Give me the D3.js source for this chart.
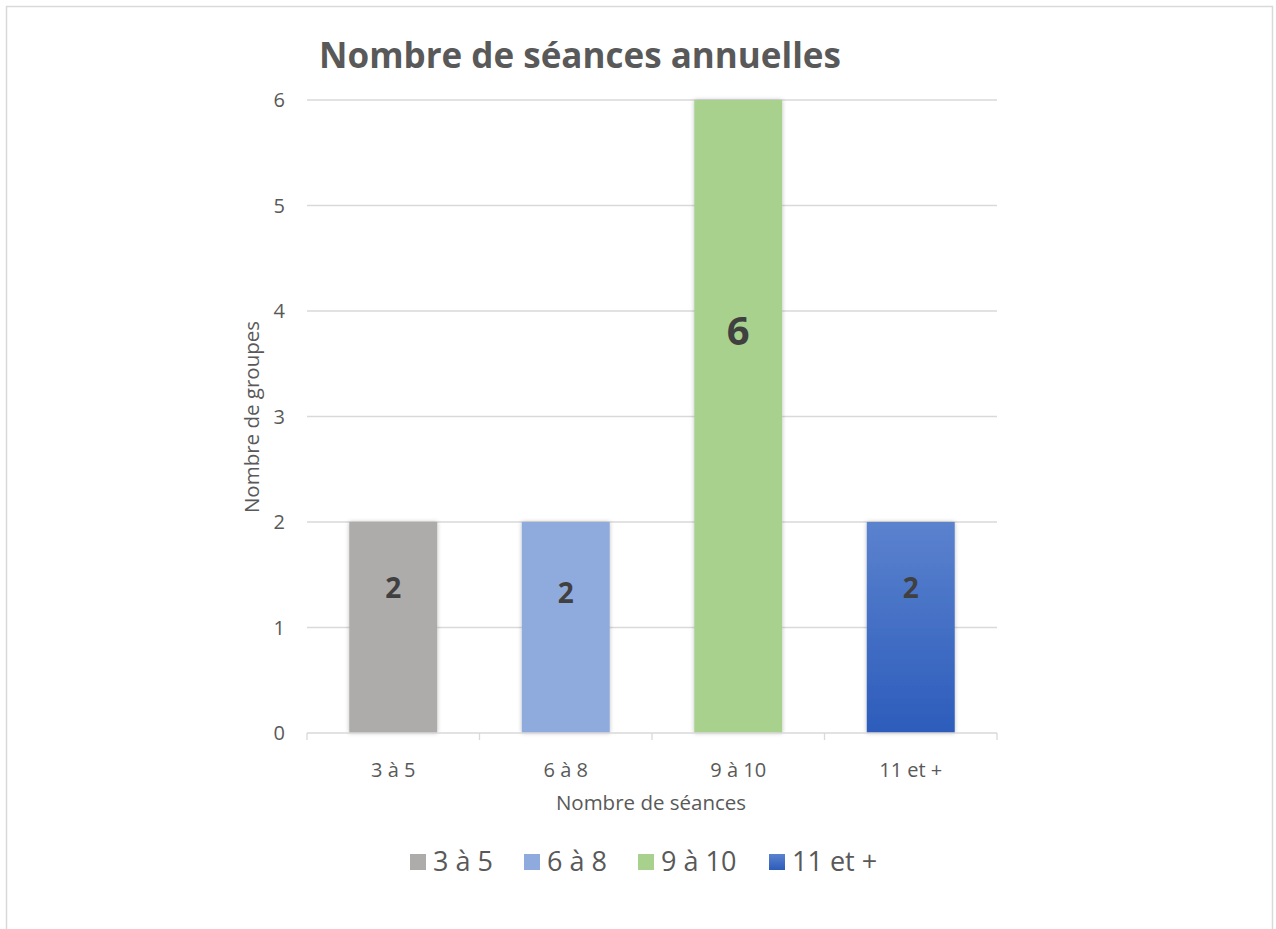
<!DOCTYPE html>
<html><head><meta charset="utf-8">
<script src="https://cdn.jsdelivr.net/npm/d3@7"></script>
<style>
html,body{margin:0;padding:0;background:#fff;}
svg{display:block;font-family:"Open Sans","Noto Sans",sans-serif;}
</style></head>
<body>
<script>
const categories = ["3 à 5", "6 à 8", "9 à 10", "11 et +"];
const values = [2, 2, 6, 2];
const labelPos = [1.38, 1.34, 3.82, 1.38];
const yTicks = [0, 1, 2, 3, 4, 5, 6];
const title = "Nombre de séances annuelles";
const xTitle = "Nombre de séances";
const yTitle = "Nombre de groupes";
const colors = ["#AEABAB", "#8FAADC", "#A9D18E", "url(#blueGrad)"];

const W = 1276, H = 929;
const svg = d3.select("body").append("svg").attr("width", W).attr("height", H);
const defs = svg.append("defs");
const g1 = defs.append("linearGradient").attr("id","blueGrad").attr("x1",0).attr("y1",0).attr("x2",0).attr("y2",1);
g1.append("stop").attr("offset","0%").attr("stop-color","#5B82CE");
g1.append("stop").attr("offset","100%").attr("stop-color","#2C5CBB");
const f = defs.append("filter").attr("id","shadow").attr("x","-20%").attr("y","-5%").attr("width","140%").attr("height","110%");
f.append("feDropShadow").attr("dx",0).attr("dy",0).attr("stdDeviation",2).attr("flood-color","#000").attr("flood-opacity",0.25);

// border
svg.append("rect").attr("x",6.5).attr("y",6.5).attr("width",1266).attr("height",940)
  .attr("fill","#fff").attr("stroke","#D9D9D9").attr("stroke-width",1.5);

const x = d3.scaleBand().domain(categories).range([307, 997]).paddingInner(0.49).paddingOuter(0.245);
const y = d3.scaleLinear().domain([0, 6]).range([733, 100]);

// gridlines
svg.append("g").selectAll("line").data(yTicks.filter(d => d > 0)).join("line")
  .attr("x1",307).attr("x2",997).attr("y1",d=>y(d)).attr("y2",d=>y(d))
  .attr("stroke","#D9D9D9").attr("stroke-width",1.3);

// bars
svg.append("g").selectAll("rect").data(values).join("rect")
  .attr("x",(d,i)=>x(categories[i])).attr("width",x.bandwidth())
  .attr("y",d=>y(d)).attr("height",d=>y(0)-y(d))
  .attr("fill",(d,i)=>colors[i]).attr("filter","url(#shadow)");

// x axis
const xa = svg.append("g").attr("transform","translate(0,733)");
xa.append("line").attr("x1",307).attr("x2",997).attr("stroke","#D9D9D9").attr("stroke-width",1.3);
const bounds = [307].concat(categories.map(c => x(c) + x.bandwidth() + x.step()*x.paddingInner()/2));
xa.selectAll("line.tick").data(bounds).join("line").attr("class","tick")
  .attr("x1",d=>d).attr("x2",d=>d).attr("y1",0).attr("y2",7)
  .attr("stroke","#D9D9D9").attr("stroke-width",1.3);
xa.selectAll("text").data(categories).join("text")
  .attr("x",d=>x(d)+x.bandwidth()/2).attr("y",44)
  .attr("text-anchor","middle").attr("fill","#595959").attr("font-size",20).text(d=>d);

// y axis labels
svg.append("g").selectAll("text").data(yTicks).join("text")
  .attr("x",285).attr("y",d=>y(d)+7).attr("text-anchor","end")
  .attr("fill","#595959").attr("font-size",20).text(d=>d);

// data labels
svg.append("g").selectAll("text").data(values).join("text")
  .attr("x",(d,i)=>x(categories[i])+x.bandwidth()/2)
  .attr("y",(d,i)=>y(labelPos[i]))
  .attr("text-anchor","middle").attr("dominant-baseline","central")
  .attr("font-weight","bold").attr("fill","#404040")
  .attr("font-size",d=>d>=6?40:28).text(d=>d);

// title
svg.append("text").attr("x",580).attr("y",68).attr("text-anchor","middle")
  .attr("font-size",35).attr("font-weight","bold").attr("fill","#595959").text(title);

// axis titles
svg.append("text").attr("x",651).attr("y",810).attr("text-anchor","middle")
  .attr("font-size",20.5).attr("fill","#595959").text(xTitle);
svg.append("text").attr("transform","translate(259,417) rotate(-90)").attr("text-anchor","middle")
  .attr("font-size",20.5).attr("fill","#595959").text(yTitle);

// legend
const legX = [410, 524, 638, 769];
const lg = svg.append("g").selectAll("g").data(categories).join("g")
  .attr("transform",(d,i)=>`translate(${legX[i]},854)`);
lg.append("rect").attr("width",16).attr("height",16).attr("fill",(d,i)=>colors[i]);
lg.append("text").attr("x",23).attr("y",17).attr("font-size",27).attr("fill","#595959").text(d=>d);
</script>
</body></html>
